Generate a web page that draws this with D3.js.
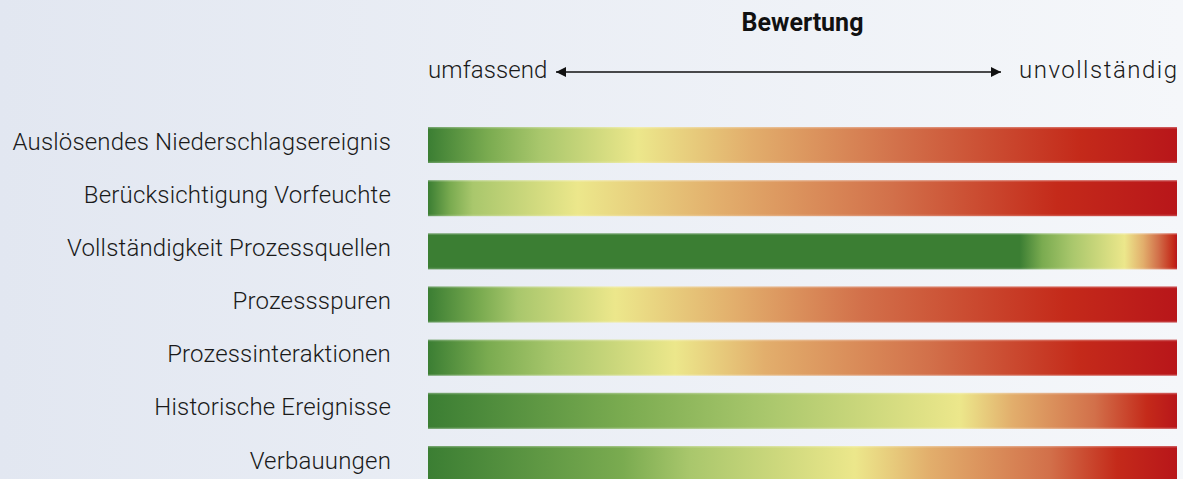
<!DOCTYPE html>
<html>
<head>
<meta charset="utf-8">
<script src="https://cdn.jsdelivr.net/npm/d3@7"></script>
<style>
  body { margin: 0; }
  svg { display: block; }
</style>
</head>
<body>
<div class="rating-chart"></div>
<script>
// Bewertung der Grundlagen, Verlauf von umfassend (0) bis unvollständig (100)

var categories = [
    "Auslösendes Niederschlagsereignis",
    "Berücksichtigung Vorfeuchte",
    "Vollständigkeit Prozessquellen",
    "Prozessspuren",
    "Prozessinteraktionen",
    "Historische Ereignisse",
    "Verbauungen"
];

// key colours of the rating scale, from green to red
var keyColors = ["#3b7e33", "#7aab50", "#a9c76c", "#ece78b", "#e2ae6c", "#d2704a", "#c42a1a", "#b8161a"];

// where each bar reaches each key colour (rating 0..100)
var keyPositions = [
    [0, 8, 15, 28, 43, 63, 87, 100],
    [0, 3, 6, 20, 39, 62, 84, 100],
    [79, 82, 86, 93, 95.5, 97.5, 99.5, 100],
    [0, 7, 12, 25, 41, 58, 85, 100],
    [0, 8, 17, 33, 45, 67, 87, 100],
    [0, 26, 45, 71, 78, 89, 96, 100],
    [0, 26, 35, 57, 67, 83, 92, 100]
];

var scaleEnds = ["umfassend", "unvollständig"];
var title = "Bewertung";

var width = 1183, height = 479;
var font = "Roboto, 'Liberation Sans', sans-serif";

var svg = d3.select('.rating-chart')
    .append('svg')
        .attr('width', width)
        .attr('height', height);

var defs = svg.append("defs");

// background
var bg = defs.append("linearGradient")
    .attr("id", "bg")
    .attr("x1", "0%").attr("y1", "0%")
    .attr("x2", "100%").attr("y2", "0%");
bg.append("stop").attr("offset", "0%").attr("stop-color", "#e2e7f1");
bg.append("stop").attr("offset", "100%").attr("stop-color", "#f5f7fa");

svg.append("rect")
    .attr("width", width)
    .attr("height", height)
    .attr("fill", "url(#bg)");

var x = d3.scaleLinear()
    .domain([0, 100])
    .range([428, 1177]);

var y = d3.scaleBand()
    .domain(categories)
    .range([127, 482])
    .paddingInner(0.323)
    .paddingOuter(0);

// one gradient per bar
categories.forEach(function(c, i) {
    var g = defs.append("linearGradient")
        .attr("id", "grad" + i)
        .attr("gradientUnits", "userSpaceOnUse")
        .attr("x1", x(0)).attr("y1", 0)
        .attr("x2", x(100)).attr("y2", 0);
    g.selectAll("stop")
        .data(keyPositions[i])
        .enter()
        .append("stop")
            .attr("offset", function(d) { return (d / 100); })
            .attr("stop-color", function(d, j) { return keyColors[j]; });
});

// faint top and bottom sheen on the bars
var sheen = defs.append("linearGradient")
    .attr("id", "sheen")
    .attr("x1", 0).attr("y1", 0)
    .attr("x2", 0).attr("y2", 1);
sheen.append("stop").attr("offset", 0).attr("stop-color", "#fff").attr("stop-opacity", 0.35);
sheen.append("stop").attr("offset", 0.06).attr("stop-color", "#fff").attr("stop-opacity", 0);
sheen.append("stop").attr("offset", 0.94).attr("stop-color", "#fff").attr("stop-opacity", 0);
sheen.append("stop").attr("offset", 1).attr("stop-color", "#fff").attr("stop-opacity", 0.25);

var rows = svg.selectAll(".row")
    .data(categories)
    .enter()
    .append("g")
        .attr("class", "row");

rows.append("rect")
    .attr("x", x(0))
    .attr("y", function(d) { return y(d); })
    .attr("width", x(100) - x(0))
    .attr("height", y.bandwidth())
    .attr("fill", function(d, i) { return "url(#grad" + i + ")"; });

rows.append("rect")
    .attr("x", x(0))
    .attr("y", function(d) { return y(d); })
    .attr("width", x(100) - x(0))
    .attr("height", y.bandwidth())
    .attr("fill", "url(#sheen)");

rows.append("text")
    .attr("x", 391)
    .attr("y", function(d) { return y(d) + y.bandwidth() / 2; })
    .attr("dy", "0.19em")
    .attr("text-anchor", "end")
    .style("font-family", font)
    .style("font-weight", 300)
    .style("font-size", "24px")
    .style("letter-spacing", "0.17px")
    .style("fill", "#1a1a1a")
    .text(function(d) { return d; });

// title and scale direction
svg.append("text")
    .attr("x", (x(0) + x(100)) / 2)
    .attr("y", 31)
    .attr("text-anchor", "middle")
    .style("font-family", font)
    .style("font-weight", 700)
    .style("font-size", "25px")
    .style("fill", "#111")
    .text(title);

svg.append("text")
    .attr("x", x(0))
    .attr("y", 78)
    .attr("text-anchor", "start")
    .style("font-family", font)
    .style("font-weight", 300)
    .style("font-size", "24px")
    .style("letter-spacing", "0.1px")
    .style("fill", "#1a1a1a")
    .text(scaleEnds[0]);

svg.append("text")
    .attr("x", x(100))
    .attr("y", 78)
    .attr("text-anchor", "end")
    .attr("textLength", 158)
    .attr("lengthAdjust", "spacing")
    .style("font-family", font)
    .style("font-weight", 300)
    .style("font-size", "24px")
    .style("fill", "#1a1a1a")
    .text(scaleEnds[1]);

defs.append("marker")
    .attr("id", "head")
    .attr("viewBox", "0 0 10 10")
    .attr("refX", 10).attr("refY", 5)
    .attr("markerWidth", 15).attr("markerHeight", 10)
    .attr("markerUnits", "userSpaceOnUse")
    .attr("orient", "auto-start-reverse")
    .append("path")
        .attr("d", "M0,0 L10,5 L0,10 Z")
        .attr("fill", "#111");

svg.append("line")
    .attr("x1", 556).attr("y1", 72)
    .attr("x2", 1001).attr("y2", 72)
    .attr("stroke", "#111")
    .attr("stroke-width", 1.3)
    .attr("marker-start", "url(#head)")
    .attr("marker-end", "url(#head)");
</script>
</body>
</html>
